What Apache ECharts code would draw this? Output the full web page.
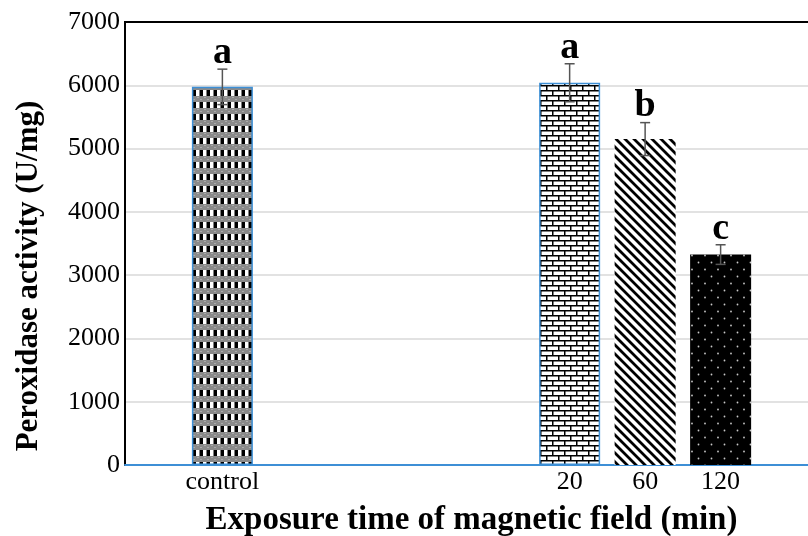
<!DOCTYPE html>
<html>
<head>
<meta charset="utf-8">
<script src="https://cdn.jsdelivr.net/npm/echarts@6/dist/echarts.min.js"></script>
<style>html,body{margin:0;padding:0;background:#fff;}#c{width:808px;height:536px;}</style>
</head>
<body>
<div id="c"></div>
<script>
const categories = ['control', '20', '60', '120'];
const xPositions = [1.29, 5.89, 6.89, 7.89];
const means = [5975, 6040, 5150, 3325];
const errors = [280, 300, 260, 155];
const letters = ['a', 'a', 'b', 'c'];
const yMin = 0, yMax = 7000, yStep = 1000;

const FONT = "'Liberation Serif', 'Times New Roman', serif";

function tile(w, h, draw) {
  const c = document.createElement('canvas');
  c.width = w; c.height = h;
  draw(c.getContext('2d'), w, h);
  return c;
}
const patCheck = tile(7, 12, (g, w, h) => {
  g.fillStyle = '#8a8a8a'; g.fillRect(0, 0, w, h);
  g.fillStyle = '#aaaaaa'; g.fillRect(1, 1, 2, 1); g.fillRect(4, 3, 2, 1);
  g.fillStyle = '#ffffff'; g.fillRect(0, 6, w, 6);
  g.fillStyle = '#000000'; g.fillRect(3.5, 6, 3.5, 6);
});
const patBrick = tile(12, 10, (g, w, h) => {
  g.fillStyle = '#ffffff'; g.fillRect(0, 0, w, h);
  g.fillStyle = '#000000';
  g.fillRect(0, 0, w, 1.5); g.fillRect(0, 5, w, 1.5);
  g.fillRect(0, 0, 1.5, 5); g.fillRect(6, 5, 1.5, 5);
});
const patHatch = tile(9, 9, (g, w, h) => {
  g.fillStyle = '#ffffff'; g.fillRect(0, 0, w, h);
  g.strokeStyle = '#000000'; g.lineWidth = 2.8;
  g.beginPath();
  g.moveTo(-2, -2); g.lineTo(w + 2, h + 2);
  g.moveTo(-2, h - 2); g.lineTo(2, h + 2);
  g.moveTo(w - 2, -2); g.lineTo(w + 2, 2);
  g.stroke();
});
const patDots = tile(13, 14, (g, w, h) => {
  g.fillStyle = '#000000'; g.fillRect(0, 0, w, h);
  g.fillStyle = '#c8c8c8';
  g.beginPath(); g.arc(3, 3.5, 0.9, 0, Math.PI * 2); g.fill();
  g.beginPath(); g.arc(9.5, 10.5, 0.9, 0, Math.PI * 2); g.fill();
});
const patterns = [patCheck, patBrick, patHatch, patDots];
const borders = [['#3d8fd6', 1.5], ['#3d8fd6', 1.5], [null, 0], [null, 0]];

const chart = echarts.init(document.getElementById('c'));
chart.setOption({
  animation: false,
  backgroundColor: '#fff',
  grid: { left: 125, right: -10, top: 22, bottom: 71, show: true, borderColor: '#000', borderWidth: 2, containLabel: false, outerBoundsMode: 'none' },
  xAxis: {
    type: 'value', min: 0, max: 9.18,
    name: 'Exposure time of magnetic field (min)',
    nameLocation: 'middle', nameGap: 39,
    nameTextStyle: { fontFamily: FONT, fontWeight: 'bold', fontSize: 33, color: '#000' },
    axisLine: { show: true, lineStyle: { color: '#3d8fd6', width: 2 } },
    axisTick: { show: false },
    splitLine: { show: false },
    axisLabel: {
      customValues: xPositions,
      formatter: (v) => { const i = xPositions.findIndex(p => Math.abs(p - v) < 1e-6); return i >= 0 ? categories[i] : ''; },
      fontFamily: FONT, fontSize: 26, color: '#000', margin: 4
    }
  },
  yAxis: {
    type: 'value', min: yMin, max: yMax, interval: yStep,
    axisLine: { show: true, lineStyle: { color: '#000', width: 2 } },
    axisTick: { show: false },
    splitLine: { show: true, showMaxLine: false, showMinLine: false, lineStyle: { color: '#d9d9d9', width: 1.5 } },
    axisLabel: { fontFamily: FONT, fontSize: 26, color: '#000', margin: 5, formatter: (v) => String(v) }
  },
  graphic: [{
    type: 'text', x: 29, y: 276, rotation: Math.PI / 2,
    style: { text: 'Peroxidase activity (U/mg)', fontFamily: FONT, fontWeight: 'bold', fontSize: 31, fill: '#000', align: 'center', verticalAlign: 'middle' }
  }],
  series: [{
    type: 'bar',
    barWidth: 61,
    data: xPositions.map((x, i) => ({
      value: [x, means[i]],
      itemStyle: {
        color: { image: patterns[i], repeat: 'repeat' },
        borderColor: borders[i][0] || 'transparent',
        borderWidth: borders[i][1]
      }
    }))
  }, {
    type: 'custom',
    data: xPositions.map((x, i) => [x, means[i], errors[i]]),
    renderItem: (params, api) => {
      const x = api.value(0), m = api.value(1), e = api.value(2);
      const top = api.coord([x, m + e]);
      const bot = api.coord([x, m - e]);
      const cap = 5;
      const ls = { stroke: '#555', lineWidth: 1.5 };
      return {
        type: 'group',
        children: [
          { type: 'line', shape: { x1: top[0], y1: top[1], x2: bot[0], y2: bot[1] }, style: ls },
          { type: 'line', shape: { x1: top[0] - cap, y1: top[1], x2: top[0] + cap, y2: top[1] }, style: ls },
          { type: 'line', shape: { x1: bot[0] - cap, y1: bot[1], x2: bot[0] + cap, y2: bot[1] }, style: ls },
          { type: 'text', x: top[0], y: top[1] + 3,
            style: { text: letters[params.dataIndex], fontFamily: FONT, fontWeight: 'bold', fontSize: 38, fill: '#000', align: 'center', verticalAlign: 'bottom' } }
        ]
      };
    },
    z: 5
  }]
});
</script>
</body>
</html>
